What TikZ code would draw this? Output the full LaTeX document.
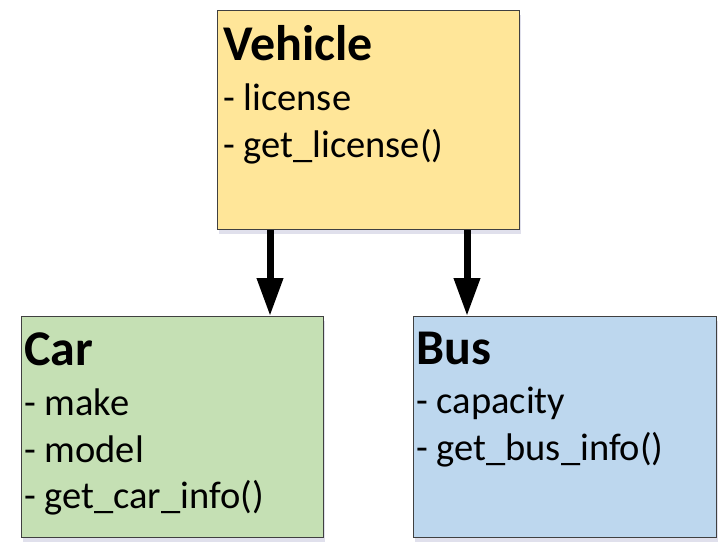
\documentclass[tikz,border=0pt]{standalone}
\usepackage{fontspec}
\setmainfont{Carlito}
\usetikzlibrary{arrows.meta,shadows}
\definecolor{vehfill}{HTML}{FFE699}
\definecolor{carfill}{HTML}{C5E0B4}
\definecolor{busfill}{HTML}{BDD7EE}
\definecolor{edge}{HTML}{404040}
\tikzset{
  classbox/.style={draw=edge, line width=1.3pt, anchor=north west, inner sep=0pt,
    drop shadow={opacity=0.12, shadow xshift=1pt, shadow yshift=-4pt, fill=black!60!blue}},
  title/.style={anchor=base west, inner sep=0pt, font=\fontsize{50}{50}\selectfont\bfseries},
  member/.style={anchor=base west, inner sep=0pt, font=\fontsize{38.5}{38.5}\selectfont},
  inh/.style={line width=7pt, -{Triangle[width=25pt,length=38pt]}}
}
\begin{document}
\begin{tikzpicture}[x=1pt,y=-1pt]
\useasboundingbox (0,0) rectangle (727,552);
\node[classbox, fill=vehfill, minimum width=302pt, minimum height=219pt] (veh) at (217,10) {};
\node[classbox, fill=carfill, minimum width=302pt, minimum height=221pt] (car) at (21,316) {};
\node[classbox, fill=busfill, minimum width=303pt, minimum height=221pt] (bus) at (413,316) {};

\node[title] (vt) at (223,60) {Vehicle};
\node[member] (v1) at (223,110) {- license};
\node[member] (v2) at (223,157) {- get\_license()};

\node[title] (ct) at (24,365) {Car};
\node[member] (c1) at (24,415) {- make};
\node[member] (c2) at (24,462) {- model};
\node[member] (c3) at (24,508) {- get\_car\_info()};

\node[title] (bt) at (416,364) {Bus};
\node[member] (b1) at (416,413) {- capacity};
\node[member] (b2) at (416,460) {- get\_bus\_info()};

\draw[inh] ([xshift=53pt]veh.south west) -- ([xshift=53pt]veh.south west |- car.north);
\draw[inh] ([xshift=250pt]veh.south west) -- ([xshift=250pt]veh.south west |- bus.north);
\end{tikzpicture}
\end{document}
